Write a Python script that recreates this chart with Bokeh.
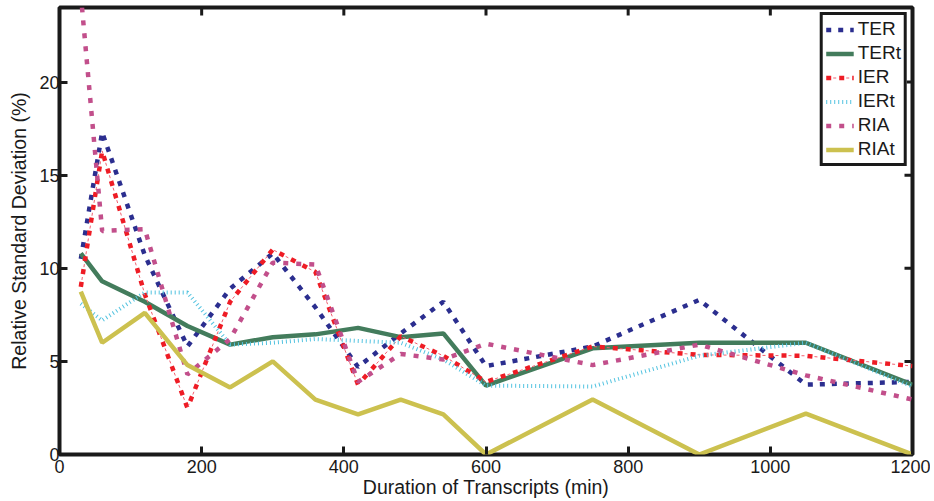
import math
from bokeh.plotting import figure
from bokeh.models import Range1d, FixedTicker, Legend, LegendItem
from bokeh.embed import file_html
from bokeh.resources import INLINE

# ---- data ----
x_min = [30, 60, 120, 180, 240, 300, 360, 420, 480, 540, 600, 750, 900, 1050, 1200]
ter  = [10.5, 17.3, 10.7, 5.8, 8.9, 10.8, 7.9, 4.7, 6.5, 8.2, 4.75, 5.8, 8.3, 3.75, 3.9]
tert = [10.8, 9.3, 8.2, 6.9, 5.9, 6.3, 6.45, 6.8, 6.3, 6.5, 3.7, 5.7, 6.0, 6.0, 3.75]
ier  = [9.0, 16.3, 8.6, 2.5, 8.2, 11.0, 9.8, 3.75, 6.35, 5.3, 3.9, 5.8, 5.35, 5.3, 4.75]
iert = [8.1, 7.2, 8.7, 8.7, 5.9, 6.0, 6.2, 6.1, 6.0, 5.1, 3.7, 3.65, 5.3, 6.0, 3.65]
ria  = [24.7, 12.0, 12.1, 4.3, 6.2, 10.3, 10.2, 3.9, 5.4, 5.1, 5.95, 4.8, 5.9, 4.25, 2.95]
riat = [8.75, 6.0, 7.6, 4.8, 3.6, 5.0, 2.95, 2.15, 2.95, 2.15, 0.0, 2.95, 0.0, 2.2, 0.0]

x_ticks = [0, 200, 400, 600, 800, 1000, 1200]
y_ticks = [0, 5, 10, 15, 20]
x_lo, x_hi = 0, 1200
y_lo, y_hi = 0, 24

FONT = "Liberation Sans"
TXT = "#1a1a1a"
FRAME = "#1a1a1a"

p = figure(width=930, height=500,
           x_range=Range1d(x_lo, x_hi), y_range=Range1d(y_lo, y_hi),
           output_backend="svg", toolbar_location=None,
           min_border_left=59, min_border_right=18,
           min_border_top=7, min_border_bottom=45)
p.background_fill_color = "white"
p.border_fill_color = "white"
p.grid.visible = False
p.outline_line_color = FRAME
p.outline_line_alpha = 1
p.outline_line_width = 4

for ax, ticks in ((p.xaxis[0], x_ticks), (p.yaxis[0], y_ticks)):
    ax.ticker = FixedTicker(ticks=ticks)
    ax.axis_line_color = None
    ax.major_tick_in = 8
    ax.major_tick_out = 0
    ax.major_tick_line_width = 3
    ax.major_tick_line_color = FRAME
    ax.minor_tick_line_color = None
    ax.major_label_text_font = FONT
    ax.major_label_text_font_size = "18px"
    ax.major_label_text_color = TXT
    ax.axis_label_text_font = FONT
    ax.axis_label_text_font_size = "19.5px"
    ax.axis_label_text_font_style = "normal"
    ax.axis_label_text_color = TXT

p.xaxis[0].major_label_standoff = 5
p.xaxis[0].axis_label_standoff = 0
p.yaxis[0].major_label_standoff = 0
p.yaxis[0].axis_label_standoff = 6
p.xaxis[0].axis_label = "Duration of Transcripts (min)"
p.yaxis[0].axis_label = "Relative Standard Deviation (%)"

# inward ticks on the top and right edges of the box
p.scatter(x_ticks, [y_hi] * len(x_ticks), marker="dash", size=16, angle=math.pi / 2,
          line_color=FRAME, line_width=3)
p.scatter([x_hi] * len(y_ticks), y_ticks, marker="dash", size=16,
          line_color=FRAME, line_width=3)

r_ter = p.line(x_min, ter, line_color="#2b2e8f", line_width=4.5, line_dash="5 7")
r_tert = p.line(x_min, tert, line_color="#437c5c", line_width=4.5)
r_ier = p.line(x_min, ier, line_color="#ee1c25", line_width=4.5, line_dash="5 8")
r_ier2 = p.line(x_min, ier, line_color="#f06070", line_width=1, line_dash="3 10",
                line_dash_offset=6)
r_iert = p.line(x_min, iert, line_color="#52c3e0", line_width=4, line_dash="1 3")
r_ria = p.line(x_min, ria, line_color="#c24f8b", line_width=4.5, line_dash="5 8")
r_riat = p.line(x_min, riat, line_color="#ccc14f", line_width=4.5)

legend = Legend(items=[
    LegendItem(label="TER", renderers=[r_ter]),
    LegendItem(label="TERt", renderers=[r_tert]),
    LegendItem(label="IER", renderers=[r_ier, r_ier2]),
    LegendItem(label="IERt", renderers=[r_iert]),
    LegendItem(label="RIA", renderers=[r_ria]),
    LegendItem(label="RIAt", renderers=[r_riat]),
], location="top_right")
legend.border_line_color = FRAME
legend.border_line_alpha = 1
legend.border_line_width = 3.5
legend.background_fill_color = "white"
legend.background_fill_alpha = 1
legend.label_text_font = FONT
legend.label_text_font_size = "19px"
legend.label_text_color = TXT
legend.glyph_width = 28
legend.glyph_height = 21
legend.label_height = 21
legend.spacing = 2
legend.padding = 3
legend.margin = 5
legend.label_standoff = 4
p.add_layout(legend)

open("out.html", "w").write(file_html(p, INLINE))
